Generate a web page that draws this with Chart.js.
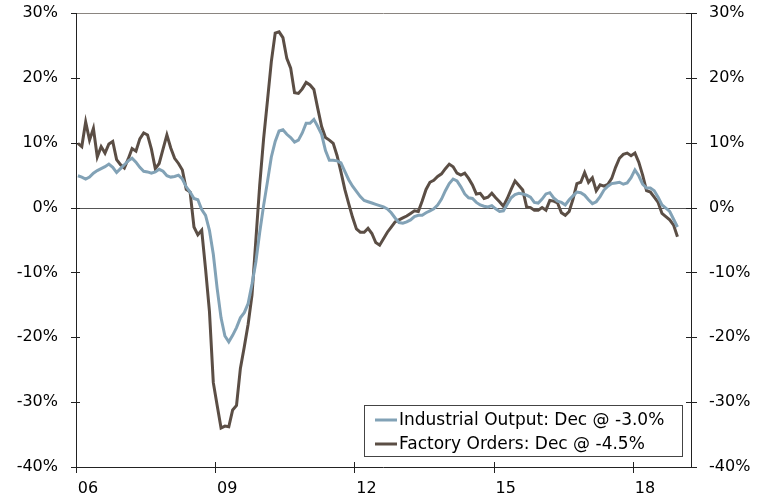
<!DOCTYPE html>
<html>
<head>
<meta charset="utf-8">
<script src="https://cdn.jsdelivr.net/npm/chart.js@4.4.1/dist/chart.umd.min.js"></script>
<style>
    html, body { margin: 0; padding: 0; background: #fff; }
    #wrap { width: 764px; height: 499px; }
</style>
</head>
<body>
<div id="wrap"><canvas id="chart" width="764" height="499"></canvas></div>
<script>
// monthly y/y % change, Jan 2006 .. Dec 2018
const startYear = 2006;
const yearTicks = [2006, 2009, 2012, 2015, 2018];
const yearTickLabels = ["06", "09", "12", "15", "18"];
const pctTicks = [-40, -30, -20, -10, 0, 10, 20, 30];
const seriesLabels = ["Industrial Output: Dec @ -3.0%", "Factory Orders: Dec @ -4.5%"];

const industrialOutput = [
    4.9, 4.7, 4.4, 4.7, 5.3, 5.7, 6.0, 6.3, 6.7, 6.2, 5.4, 6.0,
    6.6, 7.2, 7.6, 7.0, 6.2, 5.6, 5.5, 5.3, 5.5, 5.9, 5.6, 4.9,
    4.7, 4.8, 5.0, 4.4, 3.2, 2.4, 1.4, 1.2, -0.3, -1.2, -3.5, -7.2,
    -12.5, -17.0, -19.8, -20.7, -19.7, -18.5, -17.0, -16.2, -14.8, -11.8, -8.4, -3.8,
    0.3, 4.0, 7.8, 10.2, 11.8, 12.0, 11.3, 10.8, 10.1, 10.4, 11.5, 13.0,
    13.0, 13.6, 12.5, 11.3, 8.8, 7.3, 7.3, 7.2, 6.9, 5.6, 4.3, 3.3,
    2.5, 1.7, 1.1, 0.9, 0.7, 0.5, 0.3, 0.1, -0.2, -0.8, -1.6, -2.3,
    -2.4, -2.2, -1.9, -1.4, -1.2, -1.2, -0.8, -0.5, -0.2, 0.4, 1.3, 2.6,
    3.7, 4.4, 4.1, 3.2, 2.1, 1.5, 1.4, 0.8, 0.4, 0.2, 0.1, 0.3,
    -0.2, -0.6, -0.5, 0.5, 1.5, 2.0, 2.2, 2.1, 1.9, 1.6, 0.8, 0.7,
    1.3, 2.1, 2.3, 1.5, 1.0, 0.8, 0.4, 1.2, 1.8, 2.4, 2.3, 1.9,
    1.2, 0.6, 0.9, 1.7, 2.7, 3.3, 3.7, 3.8, 3.9, 3.6, 3.8, 4.6,
    5.8, 4.9, 3.6, 3.0, 3.0, 2.6, 1.6, 0.4, -0.1, -0.6, -1.8, -3.0
];

const factoryOrders = [
    9.9, 9.4, 13.2, 10.4, 12.2, 7.8, 9.4, 8.4, 9.8, 10.2, 7.4, 6.6,
    6.1, 7.5, 9.1, 8.7, 10.6, 11.5, 11.2, 9.0, 6.0, 6.8, 9.0, 11.2,
    9.2, 7.6, 6.8, 5.8, 2.8, 2.4, -3.0, -4.2, -3.5, -9.5, -16.0, -27.0,
    -30.5, -34.0, -33.7, -33.8, -31.2, -30.5, -24.8, -21.5, -18.0, -13.5, -5.0, 3.5,
    10.6, 16.5, 22.5, 26.9, 27.1, 26.2, 23.0, 21.5, 17.7, 17.6, 18.3, 19.3,
    18.9, 18.2, 15.3, 12.5, 10.8, 10.4, 9.9, 8.0, 5.5, 2.8, 0.6, -1.5,
    -3.3, -3.8, -3.8, -3.2, -4.0, -5.4, -5.8, -4.8, -3.8, -3.0, -2.2, -1.9,
    -1.6, -1.3, -0.9, -0.5, -0.6, 1.0, 2.8, 3.9, 4.2, 4.8, 5.2, 6.0,
    6.7, 6.3, 5.3, 5.0, 5.3, 4.5, 3.5, 2.1, 2.2, 1.4, 1.6, 2.2,
    1.5, 0.9, 0.2, 1.4, 2.8, 4.1, 3.4, 2.7, 0.1, 0.0, -0.4, -0.4,
    0.0, -0.4, 1.1, 1.0, 0.7, -0.8, -1.2, -0.6, 1.3, 3.7, 3.9, 5.4,
    3.9, 4.6, 2.6, 3.5, 3.3, 3.6, 4.5, 6.2, 7.6, 8.2, 8.4, 8.0,
    8.4, 7.0, 5.0, 2.6, 2.4, 1.6, 0.8, -0.9, -1.4, -1.9, -2.7, -4.5
];

// mid-month positions on a fractional-year axis
const toPoints = (arr) => arr.map((v, i) => ({x: startYear + (i + 0.5) / 12, y: v}));

const axisFont = {family: "'DejaVu Sans', Verdana, sans-serif", size: 16};

// axis frame, zero line and the crossing tick marks
const frame = {
    id: "frame",
    beforeDatasetsDraw(chart) {
        const {ctx, chartArea: a, scales} = chart;
        ctx.save();
        ctx.lineWidth = 1;

        ctx.strokeStyle = "#8a8580";
        ctx.beginPath();
        ctx.moveTo(a.left, a.top + 0.5);
        ctx.lineTo(a.right, a.top + 0.5);
        ctx.stroke();

        ctx.strokeStyle = "#555";
        const y0 = Math.round(scales.y.getPixelForValue(0)) + 0.5;
        ctx.beginPath();
        ctx.moveTo(a.left, y0);
        ctx.lineTo(a.right, y0);
        ctx.stroke();

        ctx.strokeStyle = "#222";
        ctx.beginPath();
        ctx.moveTo(a.left + 0.5, a.top);
        ctx.lineTo(a.left + 0.5, a.bottom);
        ctx.moveTo(a.right + 0.5, a.top);
        ctx.lineTo(a.right + 0.5, a.bottom);
        ctx.moveTo(a.left, a.bottom + 0.5);
        ctx.lineTo(a.right, a.bottom + 0.5);
        pctTicks.forEach((v) => {
            const y = Math.round(scales.y.getPixelForValue(v)) + 0.5;
            ctx.moveTo(a.left - 5, y);
            ctx.lineTo(a.left + (v === 30 || v === -40 ? 0 : 4), y);
            ctx.moveTo(a.right - 5, y);
            ctx.lineTo(a.right + 6, y);
        });
        yearTicks.forEach((v) => {
            const x = Math.round(scales.x.getPixelForValue(v)) + 0.5;
            ctx.moveTo(x, a.bottom - 5);
            ctx.lineTo(x, a.bottom + 6);
        });
        ctx.stroke();
        ctx.restore();
    },
};

const legendBox = {
    id: "legendBox",
    afterDraw(chart) {
        const ctx = chart.ctx;
        ctx.save();
        ctx.fillStyle = "#fff";
        ctx.fillRect(364, 405, 319, 52);
        ctx.strokeStyle = "#444";
        ctx.lineWidth = 1;
        ctx.strokeRect(364.5, 405.5, 318, 51);
        ctx.font = "17px 'DejaVu Sans', Verdana, sans-serif";
        ctx.textBaseline = "middle";
        chart.data.datasets.forEach((ds, i) => {
            const y = 420 + i * 24;
            ctx.strokeStyle = ds.borderColor;
            ctx.lineWidth = 3;
            ctx.beginPath();
            ctx.moveTo(375, y);
            ctx.lineTo(397, y);
            ctx.stroke();
            ctx.fillStyle = "#000";
            ctx.fillText(ds.label, 399, y + 1);
        });
        ctx.restore();
    },
};

const pctAxis = (position, width) => ({
    type: "linear",
    position: position,
    min: -40,
    max: 30,
    afterBuildTicks: (scale) => { scale.ticks = pctTicks.map((v) => ({value: v})); },
    afterFit: (scale) => {
        scale.width = width;
        // don't let the label padding push the plot area down
        scale.paddingTop = 0;
        scale.paddingBottom = 0;
    },
    ticks: {
        color: "#000",
        font: axisFont,
        padding: 18,
        callback: (v) => v + "%",
    },
    grid: {display: false, drawTicks: false},
    border: {display: false},
});

new Chart(document.getElementById("chart"), {
    type: "line",
    data: {
        datasets: [
            {
                label: seriesLabels[0],
                data: toPoints(industrialOutput),
                borderColor: "#82a2b6",
                borderWidth: 3,
                pointRadius: 0,
                tension: 0,
            },
            {
                label: seriesLabels[1],
                data: toPoints(factoryOrders),
                borderColor: "#5b4e45",
                borderWidth: 3,
                pointRadius: 0,
                tension: 0,
            },
        ],
    },
    options: {
        responsive: false,
        animation: false,
        devicePixelRatio: 1,
        layout: {padding: {top: 13, left: 0, right: 0, bottom: 0}},
        plugins: {legend: {display: false}, tooltip: {enabled: false}},
        scales: {
            x: {
                type: "linear",
                min: startYear,
                max: startYear + 159 / 12,
                afterBuildTicks: (scale) => { scale.ticks = yearTicks.map((v) => ({value: v})); },
                afterFit: (scale) => { scale.height = 32; },
                ticks: {
                    color: "#000",
                    font: axisFont,
                    padding: 12,
                    labelOffset: 12,
                    maxRotation: 0,
                    autoSkip: false,
                    callback: (v, i) => yearTickLabels[i],
                },
                grid: {display: false, drawTicks: false},
                border: {display: false},
            },
            y: pctAxis("left", 76),
            y2: pctAxis("right", 73),
        },
    },
    plugins: [frame, legendBox],
});
</script>
</body>
</html>
